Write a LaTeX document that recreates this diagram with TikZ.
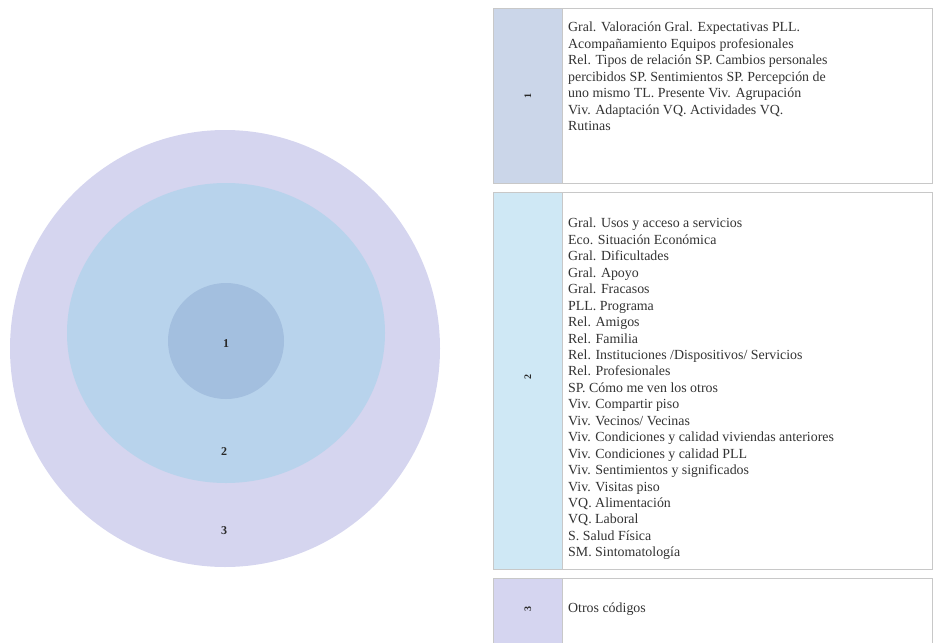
\documentclass[tikz,border=0pt]{standalone}
\usepackage{fontspec}
\setmainfont{Liberation Serif}
\usetikzlibrary{shapes.geometric}
\definecolor{ringout}{HTML}{D5D5EF}
\definecolor{ringmid}{HTML}{B8D3EC}
\definecolor{ringin}{HTML}{A3BFDF}
\definecolor{colA}{HTML}{CBD6E9}
\definecolor{colB}{HTML}{CFE8F5}
\definecolor{colC}{HTML}{D5D5F0}
\definecolor{txt}{HTML}{333333}
\definecolor{rule}{HTML}{C8C8C8}
\tikzset{
  ring/.style={ellipse, draw=none, inner sep=0pt},
  ringlabel/.style={font=\fontsize{12}{14}\selectfont\bfseries, text=txt!80!black},
  labcell/.style={rectangle, draw=rule, line width=0.8pt, inner sep=0pt, minimum width=69pt},
  textcell/.style={rectangle, draw=rule, line width=0.8pt, inner sep=0pt, fill=white, minimum width=370pt},
  codes/.style={font=\fontsize{13.9}{16.45}\selectfont, text=txt, align=left, inner sep=0pt, anchor=north west},
  rotnum/.style={font=\fontsize{10}{11}\selectfont\bfseries, text=txt!80!black, rotate=90}
}
\begin{document}
\begin{tikzpicture}[x=1pt,y=-1pt]
\useasboundingbox (0,0) rectangle (936,642);
% concentric circles
\node[ring, fill=ringout, minimum width=430pt, minimum height=437pt] (outer) at (225,348.5) {};
\node[ring, fill=ringmid, minimum width=318pt, minimum height=300pt] (middle) at (226,333) {};
\node[ring, fill=ringin, minimum width=116pt, minimum height=116pt] (inner) at (226,341) {};
\node[ringlabel] (l1) at (226,344) {1};
\node[ringlabel] (l2) at (224,452) {2};
\node[ringlabel] (l3) at (224,531) {3};
% table row 1
\node[textcell, minimum height=175pt, anchor=north west] (t1) at (562,8) {};
\node[labcell, fill=colA, minimum height=175pt, anchor=north west] (c1) at (493,8) {};
\node[rotnum] (n1) at (c1.center) {1};
\node[codes] (x1) at (568,22) {Gral. Valoración Gral. Expectativas PLL.\\
Acompañamiento Equipos profesionales\\
Rel. Tipos de relación SP. Cambios personales\\
percibidos SP. Sentimientos SP. Percepción de\\
uno mismo TL. Presente Viv. Agrupación\\
Viv. Adaptación VQ. Actividades VQ.\\
Rutinas};
% table row 2
\node[textcell, minimum height=377pt, anchor=north west] (t2) at (562,192) {};
\node[labcell, fill=colB, minimum height=377pt, anchor=north west] (c2) at (493,192) {};
\node[rotnum] (n2) at (c2.center |- 0,377) {2};
\node[codes] (x2) at (568,218) {Gral. Usos y acceso a servicios\\
Eco. Situación Económica\\
Gral. Dificultades\\
Gral. Apoyo\\
Gral. Fracasos\\
PLL. Programa\\
Rel. Amigos\\
Rel. Familia\\
Rel. Instituciones /Dispositivos/ Servicios\\
Rel. Profesionales\\
SP. Cómo me ven los otros\\
Viv. Compartir piso\\
Viv. Vecinos/ Vecinas\\
Viv. Condiciones y calidad viviendas anteriores\\
Viv. Condiciones y calidad PLL\\
Viv. Sentimientos y significados\\
Viv. Visitas piso\\
VQ. Alimentación\\
VQ. Laboral\\
S. Salud Física\\
SM. Sintomatología};
% table row 3
\node[textcell, minimum height=70pt, anchor=north west] (t3) at (562,578) {};
\node[labcell, fill=colC, minimum height=70pt, anchor=north west] (c3) at (493,578) {};
\node[rotnum] (n3) at (c3.center |- 0,609) {3};
\node[codes] (x3) at (568,603) {Otros códigos};
\end{tikzpicture}
\end{document}
